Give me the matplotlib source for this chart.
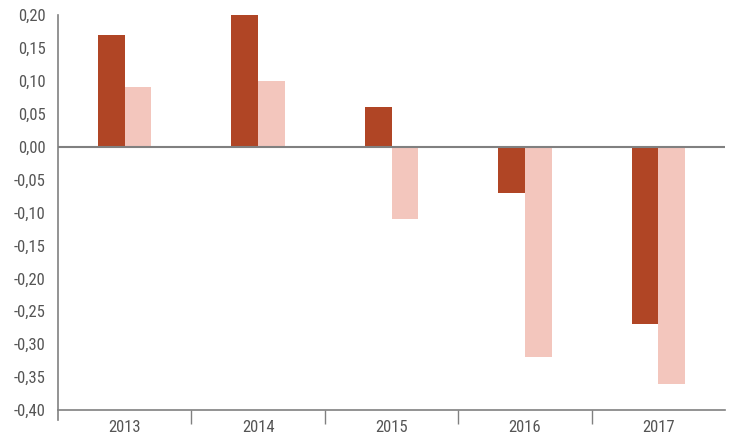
import numpy as np
import matplotlib
matplotlib.use("Agg")
import matplotlib.pyplot as plt
from matplotlib.ticker import FuncFormatter, FixedLocator

plt.rcParams["font.family"] = ["Roboto Condensed", "Liberation Sans Narrow", "DejaVu Sans Condensed", "Roboto", "DejaVu Sans"]
plt.rcParams["font.stretch"] = "condensed"

years = ["2013", "2014", "2015", "2016", "2017"]
series_a = [0.17, 0.20, 0.06, -0.07, -0.27]
series_b = [0.09, 0.10, -0.11, -0.32, -0.36]

dark = "#B04525"
light = "#F3C6BD"
grey = "#808080"

fig = plt.figure(figsize=(7.33, 4.37), dpi=100)
ax = fig.add_axes([58 / 733, 1 - 410 / 437, (725 - 58) / 733, (410 - 15) / 437])

x = np.arange(len(years))
w = 0.2
ax.bar(x - w / 2, series_a, w, color=dark, zorder=2)
ax.bar(x + w / 2, series_b, w, color=light, zorder=2)
ax.axhline(0, color=grey, lw=1.5, zorder=3)

ax.set_xlim(-0.5, len(years) - 0.5)
ax.set_ylim(-0.40, 0.20)
ax.set_yticks(np.arange(-0.40, 0.2001, 0.05))
ax.yaxis.set_major_formatter(FuncFormatter(lambda v, p: f"{v:.2f}".replace(".", ",").replace("-0,00", "0,00")))
ax.tick_params(axis="y", length=0, labelsize=12, labelcolor="#555555", pad=9)

ax.xaxis.set_major_locator(FixedLocator(np.arange(0.5, len(years) - 1, 1.0)))
ax.xaxis.set_major_formatter(FuncFormatter(lambda v, p: ""))
ax.xaxis.set_minor_locator(FixedLocator(x))
ax.set_xticklabels(years, minor=True)
ax.tick_params(axis="x", which="major", length=10, width=1, color=grey)
ax.tick_params(axis="x", which="minor", length=0, labelsize=12, labelcolor="#555555", pad=7)

for s in ["top", "right"]:
    ax.spines[s].set_visible(False)
for s in ["left", "bottom"]:
    ax.spines[s].set_color(grey)
    ax.spines[s].set_linewidth(1.2)
ax.spines["left"].set_bounds(-0.415, 0.20)

fig.savefig("out.png", dpi=100)
